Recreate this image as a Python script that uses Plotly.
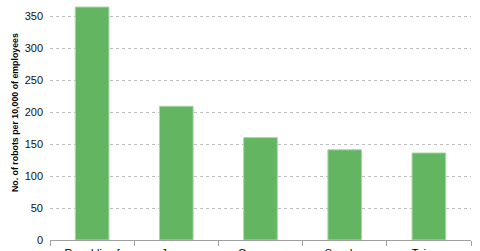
import plotly.graph_objects as go

countries = ["Republic of<br>Korea", "Japan", "Germany", "Sweden", "Taiwan"]
robots = [364, 209, 160, 141, 136]
y_ticks = [0, 50, 100, 150, 200, 250, 300, 350]
y_title = "No. of robots per 10,000 of employees"

fig = go.Figure(go.Bar(
    x=countries, y=robots, width=0.4,
    marker=dict(color="#63b562", line=dict(color="#a9d8a6", width=1)),
))

fig.update_layout(
    width=480, height=251,
    margin=dict(l=50, r=9, t=0, b=11),
    plot_bgcolor="white", paper_bgcolor="white",
    showlegend=False,
    font=dict(family="Liberation Sans, Arial, sans-serif", color="#000"),
    bargap=0.6,
)
fig.update_xaxes(
    automargin=False,
    showline=True, linecolor="#a0a0a0", linewidth=1,
    ticks="outside", tickson="boundaries", ticklen=5, tickcolor="#a0a0a0",
    tickfont=dict(size=11), showgrid=False, ticklabelstandoff=3,
)
fig.update_yaxes(
    automargin=False,
    range=[0, 375], tickvals=y_ticks,
    showgrid=True, gridcolor="#bdbdbd", griddash="dot", gridwidth=1,
    zeroline=False, showline=False,
    tickfont=dict(size=11, color="#111"), ticklabelstandoff=6,
)
fig.add_annotation(
    text="<b>" + y_title + "</b>", textangle=-90,
    xref="paper", yref="paper", x=-35 / 421, y=(240 - 113) / 240,
    xanchor="center", yanchor="middle", showarrow=False,
    font=dict(size=8.8, color="#000"),
)

fig.write_html("out.html")
